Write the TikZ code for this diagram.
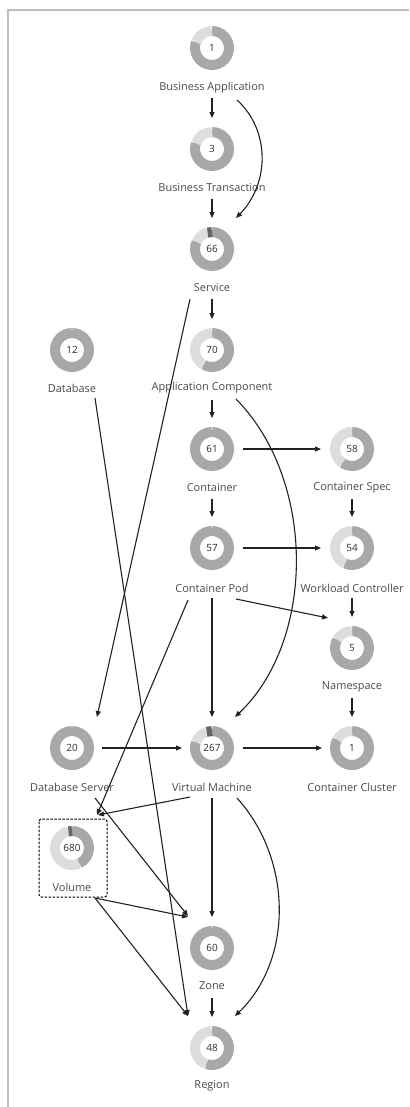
\documentclass[tikz,border=0pt]{standalone}
\usepackage{fontspec}
\setmainfont{Open Sans}
\usetikzlibrary{arrows.meta,calc}
\definecolor{ringdark}{HTML}{A8A8A8}
\definecolor{ringlight}{HTML}{DDDDDD}
\definecolor{ringmark}{HTML}{666666}
\definecolor{txt}{HTML}{4A4A4A}
\definecolor{numc}{HTML}{2E2E2E}
\definecolor{edgec}{HTML}{222222}
\definecolor{framec}{HTML}{B8C0C8}
\newcommand{\donutseg}[4]{\draw[line width=10bp,#4] (#1.center) ++({#2-90}:17) arc[start angle={#2-90},end angle={#3-90},radius=17];}
\tikzset{
  donut/.style={circle,minimum size=44bp,inner sep=0pt,font=\fontsize{10}{12}\selectfont,text=numc},
  lbl/.style={font=\fontsize{11}{13}\selectfont,text=txt,inner sep=1pt},
  arr/.style={draw=edgec,line width=1.1bp,-{Triangle[length=6bp,width=5bp]}},
  framel/.style={draw=framec,line width=1.3bp},
  volbox/.style={draw=black,line width=1bp,dash pattern=on 2.5bp off 1.5bp,rounded corners=2.5bp}
}
\begin{document}
\begin{tikzpicture}[x=1bp,y=-1bp]
\useasboundingbox (0,0) rectangle (409,1107);
\draw[framel] (8,1107) -- (8,10) -- (409,10);

% nodes
\node[donut] (ba) at (212,48) {1};
\node[lbl] (baL) at (212,88) {Business Application};
\node[donut] (bt) at (212,149) {3};
\node[lbl] (btL) at (212,188) {Business Transaction};
\node[donut] (svc) at (212,249) {66};
\node[lbl] (svcL) at (212,288) {Service};
\node[donut] (db) at (72,350) {12};
\node[lbl] (dbL) at (72,388) {Database};
\node[donut] (ac) at (212,350) {70};
\node[lbl] (acL) at (212,388) {Application Component};
\node[donut] (ctr) at (212,449) {61};
\node[lbl] (ctrL) at (212,488) {Container};
\node[donut] (cs) at (352,449) {58};
\node[lbl] (csL) at (352,488) {Container Spec};
\node[donut] (pod) at (212,548) {57};
\node[lbl] (podL) at (212,588) {Container Pod};
\node[donut] (wc) at (352,548) {54};
\node[lbl] (wcL) at (352,588) {Workload Controller};
\node[donut] (ns) at (352,648) {5};
\node[lbl] (nsL) at (352,687) {Namespace};
\node[donut] (dbs) at (72,748) {20};
\node[lbl] (dbsL) at (72,787) {Database Server};
\node[donut] (vm) at (212,748) {267};
\node[lbl] (vmL) at (212,787) {Virtual Machine};
\node[donut] (cc) at (352,748) {1};
\node[lbl] (ccL) at (352,787) {Container Cluster};
\node[donut] (vol) at (72,848) {680};
\node[lbl] (volL) at (72,887) {Volume};
\node[donut] (zone) at (212,948) {60};
\node[lbl] (zoneL) at (212,986) {Zone};
\node[donut] (reg) at (212,1048) {48};
\node[lbl] (regL) at (212,1086) {Region};

% rings
\donutseg{ba}{0}{290}{ringdark}\donutseg{ba}{290}{360}{ringlight}
\donutseg{bt}{0}{290}{ringdark}\donutseg{bt}{290}{360}{ringlight}
\donutseg{svc}{0}{295}{ringdark}\donutseg{svc}{295}{345}{ringlight}\donutseg{svc}{345}{360}{ringmark}
\donutseg{db}{0}{360}{ringdark}
\donutseg{ac}{0}{210}{ringdark}\donutseg{ac}{210}{360}{ringlight}
\donutseg{ctr}{0}{360}{ringdark}
\donutseg{cs}{0}{215}{ringdark}\donutseg{cs}{215}{360}{ringlight}
\donutseg{pod}{0}{360}{ringdark}
\donutseg{wc}{0}{205}{ringdark}\donutseg{wc}{205}{360}{ringlight}
\donutseg{ns}{0}{300}{ringdark}\donutseg{ns}{300}{360}{ringlight}
\donutseg{dbs}{0}{360}{ringdark}
\donutseg{vm}{0}{290}{ringdark}\donutseg{vm}{290}{342}{ringlight}\donutseg{vm}{342}{360}{ringmark}
\donutseg{cc}{0}{300}{ringdark}\donutseg{cc}{300}{360}{ringlight}
\donutseg{vol}{0}{155}{ringdark}\donutseg{vol}{155}{348}{ringlight}\donutseg{vol}{348}{360}{ringmark}
\donutseg{zone}{0}{360}{ringdark}
\donutseg{reg}{0}{200}{ringdark}\donutseg{reg}{200}{360}{ringlight}

% volume box
\draw[volbox] ($(vol.center)+(-33,-29)$) rectangle ($(vol.center)+(35,49)$);

% vertical connectors
\draw[arr] ($(ba.center)+(0,50)$) -- ($(bt.center)+(0,-31)$);
\draw[arr] ($(bt.center)+(0,50)$) -- ($(svc.center)+(0,-31)$);
\draw[arr] ($(svc.center)+(0,50)$) -- ($(ac.center)+(0,-31)$);
\draw[arr] ($(ac.center)+(0,50)$) -- ($(ctr.center)+(0,-31)$);
\draw[arr] ($(ctr.center)+(0,50)$) -- ($(pod.center)+(0,-31)$);
\draw[arr] ($(cs.center)+(0,50)$) -- ($(wc.center)+(0,-31)$);
\draw[arr] ($(wc.center)+(0,50)$) -- ($(ns.center)+(0,-31)$);
\draw[arr] ($(ns.center)+(0,50)$) -- ($(cc.center)+(0,-31)$);
\draw[arr] ($(pod.center)+(0,50)$) -- ($(vm.center)+(0,-31)$);
\draw[arr] ($(vm.center)+(0,50)$) -- ($(zone.center)+(0,-31)$);
\draw[arr] ($(zone.center)+(0,50)$) -- ($(reg.center)+(0,-31)$);

% horizontal connectors
\draw[arr] ($(ctr.center)+(31,0)$) -- ($(cs.center)+(-31,0)$);
\draw[arr] ($(pod.center)+(31,0)$) -- ($(wc.center)+(-31,0)$);
\draw[arr] ($(dbs.center)+(30,0)$) -- ($(vm.center)+(-30,0)$);
\draw[arr] ($(vm.center)+(31,0)$) -- ($(cc.center)+(-30,0)$);

% curved connectors
\draw[arr] ($(ba.center)+(25,52)$) .. controls ($(ba.center)+(58,82)$) and ($(svc.center)+(58,-66)$) .. ($(svc.center)+(24,-31)$);
\draw[arr] ($(ac.center)+(24,49)$) .. controls ($(ac.center)+(104,130)$) and ($(vm.center)+(104,-108)$) .. ($(vm.center)+(23,-31)$);
\draw[arr] ($(vm.center)+(25,50)$) .. controls ($(vm.center)+(81,112)$) and ($(reg.center)+(81,-88)$) .. ($(reg.center)+(23,-32)$);

% diagonal connectors
\draw[arr] ($(svc.center)+(-22,50)$) -- ($(dbs.center)+(25,-31)$);
\draw[arr] ($(db.center)+(23,48)$) -- ($(reg.center)+(-24,-32)$);
\draw[arr] ($(pod.center)+(24,51)$) -- ($(ns.center)+(-24,-30)$);
\draw[arr] ($(pod.center)+(-24,52)$) -- ($(vol.center)+(25,-33)$);
\draw[arr] ($(vm.center)+(-22,49)$) -- ($(vol.center)+(26,-33)$);
\draw[arr] ($(dbs.center)+(23,50)$) -- ($(zone.center)+(-24,-32)$);
\draw[arr] ($(vol.center)+(23,50)$) -- ($(zone.center)+(-24,-31)$);
\draw[arr] ($(vol.center)+(23,50)$) -- ($(reg.center)+(-24,-32)$);
\end{tikzpicture}
\end{document}
